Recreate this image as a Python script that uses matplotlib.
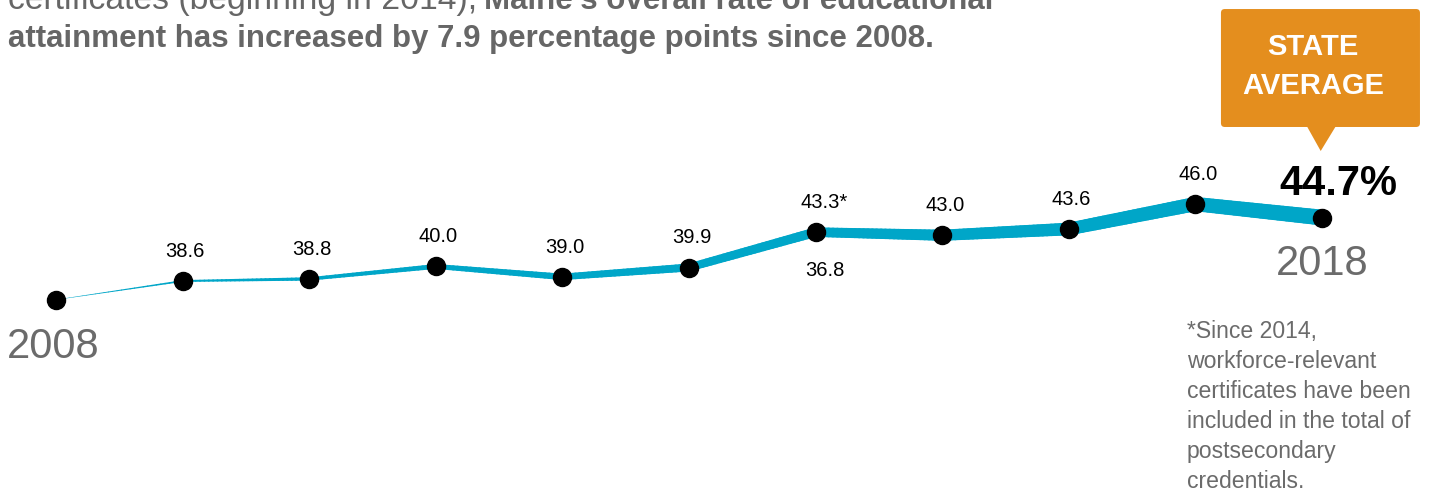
import matplotlib.pyplot as plt
import numpy as np
from matplotlib.collections import LineCollection
from matplotlib.patches import FancyBboxPatch, Polygon

# Data
years = [2008, 2009, 2010, 2011, 2012, 2013, 2014, 2015, 2016, 2017, 2018]
values = [36.8, 38.6, 38.8, 40.0, 39.0, 39.9, 43.3, 43.0, 43.6, 46.0, 44.7]
label_marks = ['', '', '', '', '', '', '*', '', '', '', '']
title_normal = "certificates (beginning in 2014), "
title_bold = "Maine's overall rate of educational"
title_line2 = "attainment has increased by 7.9 percentage points since 2008."
footnote = ("*Since 2014,\nworkforce-relevant\ncertificates have been\n"
            "included in the total of\npostsecondary\ncredentials.")

line_color = '#00A6C8'
orange = '#E48E1E'
gray = '#6b6b6b'
fonts = ['Liberation Sans', 'DejaVu Sans']

fig = plt.figure(figsize=(14.32, 4.89), dpi=100)
ax = fig.add_axes([0, 0, 1, 1])
ax.set_xlim(2007.558, 2018.869)
ax.set_ylim(18.70, 65.715)
ax.axis('off')

# tapered line: width grows from left to right
widths_px = 0.3 + 1.55 * np.arange(len(years))
segs, lws = [], []
for i in range(len(years) - 1):
    t = np.linspace(0, 1, 30)
    xs = years[i] + t * (years[i + 1] - years[i])
    ys = values[i] + t * (values[i + 1] - values[i])
    ws = widths_px[i] + t * (widths_px[i + 1] - widths_px[i])
    for k in range(len(t) - 1):
        segs.append([(xs[k], ys[k]), (xs[k + 1], ys[k + 1])])
        lws.append(ws[k] * 0.72)
ax.add_collection(LineCollection(segs, linewidths=lws, colors=line_color,
                                 capstyle='round', zorder=2))

ax.plot(years, values, 'o', color='black', ms=13, zorder=3)

# value labels above the middle points
for yr, v, m in zip(years[1:-1], values[1:-1], label_marks[1:-1]):
    ax.annotate(f"{v:.1f}{m}", (yr, v), xytext=(2 + 4 * len(m), 22),
                textcoords='offset points', ha='center', va='center',
                fontsize=14.5, family=fonts, color='black')

# first value label sits below the 2014 point in the original
ax.annotate(f"{values[0]:.1f}", (years[6], values[6]), xytext=(7, -27),
            textcoords='offset points', ha='center', va='center',
            fontsize=14.5, family=fonts, color='black')

# end labels
ax.annotate(f"{values[-1]:.1f}%", (years[-1], values[-1]), xytext=(12, 25),
            textcoords='offset points', ha='center', va='center',
            fontsize=30, fontweight='bold', family=fonts, color='black')
ax.annotate(str(years[-1]), (years[-1], values[-1]), xytext=(0, -32.5),
            textcoords='offset points', ha='center', va='center',
            fontsize=30, family=fonts, color=gray)
ax.annotate(str(years[0]), (years[0], values[0]), xytext=(-35, -33),
            textcoords='offset points', ha='left', va='center',
            fontsize=30, family=fonts, color=gray)

# orange callout above the last point
cx = years[-1]
box = FancyBboxPatch((cx - 0.798, 53.41), 1.572, 11.34,
                     boxstyle='round,pad=0,rounding_size=0.03',
                     mutation_aspect=12.17, facecolor=orange,
                     edgecolor='none', zorder=4)
ax.add_patch(box)
ax.add_patch(Polygon([(cx - 0.12, 53.5), (cx + 0.11, 53.5), (cx - 0.01, 51.1)],
                     closed=True, facecolor=orange, edgecolor='none', zorder=4))
ax.text(cx - 0.07, 59.3, "STATE\nAVERAGE", ha='center', va='center',
        fontsize=21, fontweight='bold', family=fonts, color='white',
        linespacing=1.5, zorder=5)

# heading (top line cut off by the frame, as in the original)
fig.text(8 / 1432, 1 - 9 / 489, title_normal, ha='left', va='baseline',
         fontsize=24.3, family=fonts, color='#666666')
fig.text(484 / 1432, 1 - 9 / 489, title_bold, ha='left', va='baseline',
         fontsize=22.5, fontweight='bold', family=fonts, color='#666666')
fig.text(8 / 1432, 1 - 47 / 489, title_line2, ha='left', va='baseline',
         fontsize=22.5, fontweight='bold', family=fonts, color='#666666')

fig.text(1187 / 1432, 1 - 320 / 489, footnote, ha='left', va='top',
         fontsize=16.6, family=fonts, color=gray, linespacing=1.385)

fig.savefig('out.png', dpi=100)
